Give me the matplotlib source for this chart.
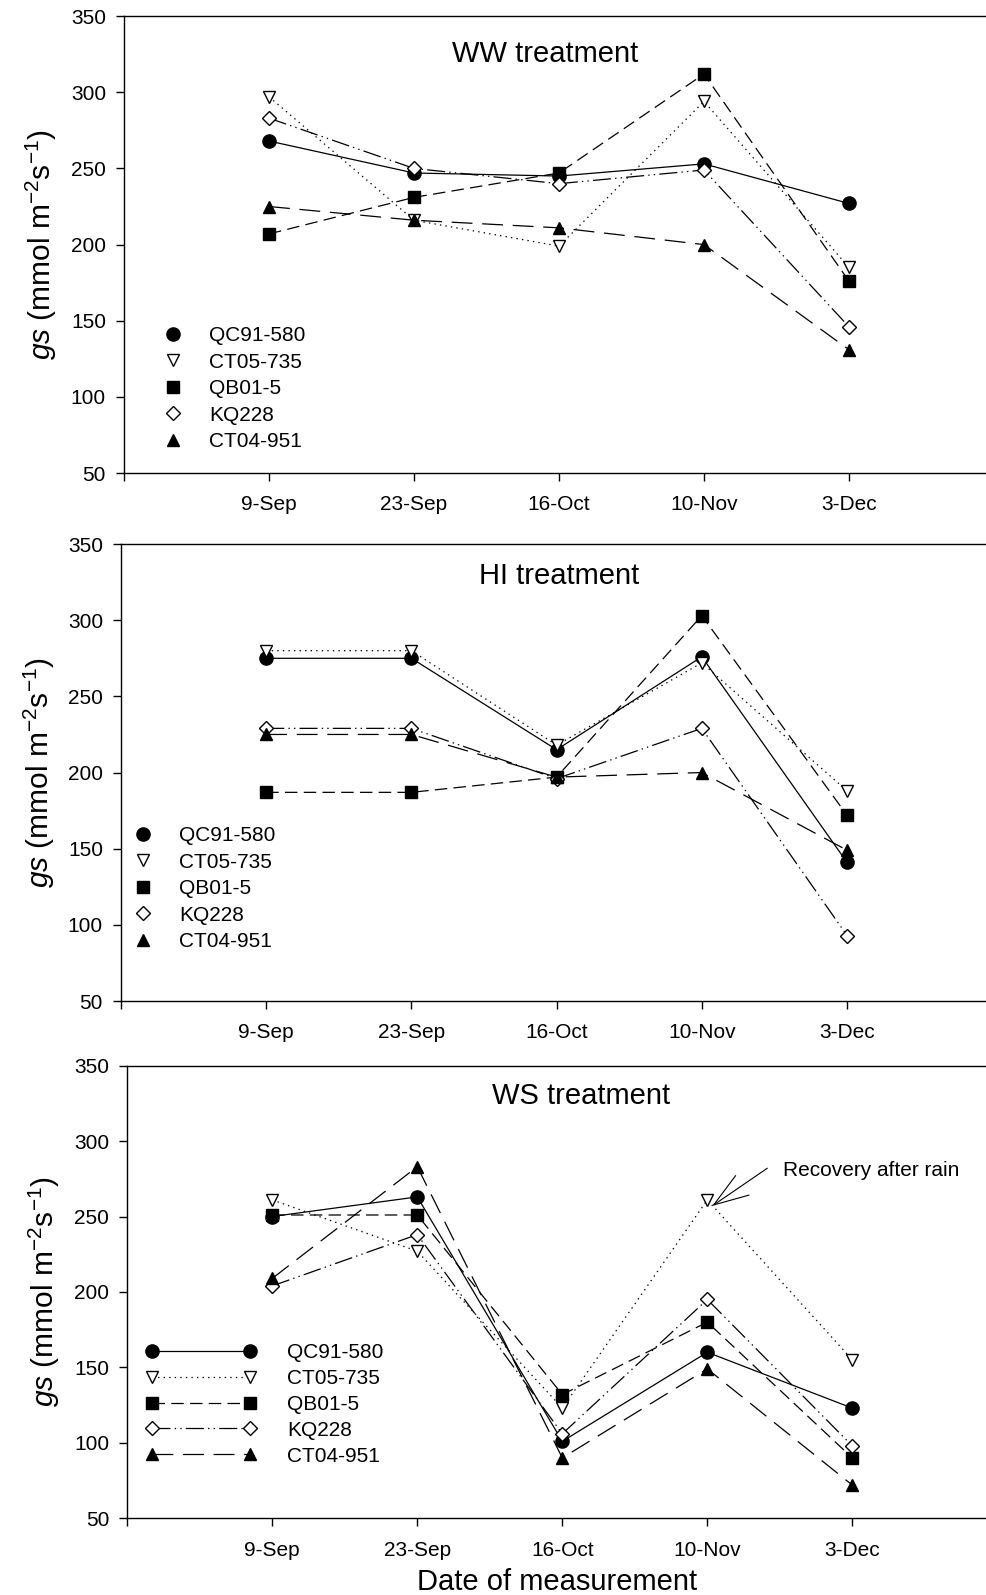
import numpy as np
import matplotlib
matplotlib.use("Agg")
import matplotlib.pyplot as plt
from matplotlib.lines import Line2D

plt.rcParams['font.family'] = 'Liberation Sans'
plt.rcParams['mathtext.fontset'] = 'custom'
plt.rcParams['mathtext.rm'] = 'Liberation Sans'
plt.rcParams['mathtext.it'] = 'Liberation Sans:italic'
plt.rcParams['lines.scale_dashes'] = False

dates = ['9-Sep', '23-Sep', '16-Oct', '10-Nov', '3-Dec']
cultivars = ['QC91-580', 'CT05-735', 'QB01-5', 'KQ228', 'CT04-951']

# gs values per treatment, one row per cultivar (same order as cultivars)
ww_gs = [
    [268, 247, 245, 253, 227],
    [297, 216, 199, 294, 185],
    [207, 231, 247, 312, 176],
    [283, 250, 240, 249, 146],
    [225, 216, 211, 200, 131],
]
hi_gs = [
    [275, 275, 215, 276, 141],
    [280, 280, 218, 272, 188],
    [187, 187, 197, 303, 172],
    [229, 229, 196, 229, 93],
    [225, 225, 197, 200, 149],
]
ws_gs = [
    [250, 263, 101, 160, 123],
    [261, 227, 123, 261, 155],
    [251, 251, 132, 180, 90],
    [204, 238, 106, 195, 98],
    [209, 283, 90, 149, 72],
]

markers = ['o', 'v', 's', 'D', '^']
fills = ['black', 'white', 'black', 'white', 'black']
sizes = [9.5, 9, 8.5, 7.5, 9]
styles = ['-', (0, (1, 3)), (0, (9, 4.5)), (0, (13, 3, 1, 3, 1, 3)), (0, (15, 7))]

fig = plt.figure(figsize=(9.86, 15.95), dpi=100)

panels = [
    # data, title, axes rect, xmax, title pos, legend anchor, legend with lines, ylabel coords
    (ww_gs, 'WW treatment', [0.1258, 0.7034, 0.8742, 0.2865], 5.945, (3.545, 325),
     (0.0448, 0.3217), False, (-0.076, 0.5)),
    (hi_gs, 'HI treatment', [0.1227, 0.3724, 0.8773, 0.2865], 5.957, (3.566, 329),
     (0.0134, 0.383), False, (-0.074, 0.5)),
    (ws_gs, 'WS treatment', [0.1291, 0.0481, 0.8709, 0.2838], 5.922, (3.743, 330),
     (0.0215, 0.387), True, (-0.076, 0.5)),
]

x = np.arange(1, len(dates) + 1)

for data, title, rect, xmax, tpos, lpos, with_lines, ylab in panels:
    ax = fig.add_axes(rect)
    handles = []
    for i, name in enumerate(cultivars):
        ln, = ax.plot(x, data[i], color='black', lw=0.9, linestyle=styles[i],
                      marker=markers[i], markersize=sizes[i], markerfacecolor=fills[i],
                      markeredgecolor='black', markeredgewidth=1.0, label=name)
        if with_lines:
            handles.append(ln)
        else:
            handles.append(Line2D([], [], ls='none', marker=markers[i], markersize=sizes[i],
                                  markerfacecolor=fills[i], markeredgecolor='black',
                                  markeredgewidth=1.0))
    ax.set_xlim(0, xmax)
    ax.set_ylim(50, 350)
    ax.set_yticks(np.arange(50, 351, 50))
    ax.set_xticks(np.arange(0, len(dates) + 1))
    ax.set_xticklabels([''] + dates)
    ax.spines['right'].set_visible(False)
    for s in ['left', 'top', 'bottom']:
        ax.spines[s].set_linewidth(1.0)
    ax.tick_params(axis='both', direction='out', length=6, width=1.0, labelsize=15)
    ax.tick_params(axis='x', pad=10)
    ax.tick_params(axis='y', pad=7)
    ax.text(tpos[0], tpos[1], title, ha='right', va='center', fontsize=21)
    ax.set_ylabel(r'$\mathit{gs}$ (mmol m$^{-2}$s$^{-1}$)', fontsize=21.5)
    ax.yaxis.set_label_coords(ylab[0], ylab[1])

    if with_lines:
        ax.legend(handles, cultivars, loc='upper left', bbox_to_anchor=lpos,
                  frameon=False, fontsize=15, numpoints=2, handlelength=5.31,
                  handletextpad=1.48, labelspacing=0.33, borderpad=0, borderaxespad=0)
    else:
        ax.legend(handles, cultivars, loc='upper left', bbox_to_anchor=lpos,
                  frameon=False, fontsize=15, numpoints=1, handlelength=1.0,
                  handletextpad=1.23, labelspacing=0.36, borderpad=0, borderaxespad=0)

    if title.startswith('WS'):
        ax.annotate('', xy=(4.034, 257), xytext=(4.414, 282),
                    arrowprops=dict(arrowstyle='->, head_length=2.5, head_width=0.85',
                                    mutation_scale=10, lw=0.8, color='black',
                                    shrinkA=0, shrinkB=0))
        ax.text(4.52, 280.2, 'Recovery after rain', ha='left', va='center', fontsize=15)
        ax.set_xlabel('Date of measurement', fontsize=21, labelpad=6)

fig.savefig('out.png', dpi=100)
